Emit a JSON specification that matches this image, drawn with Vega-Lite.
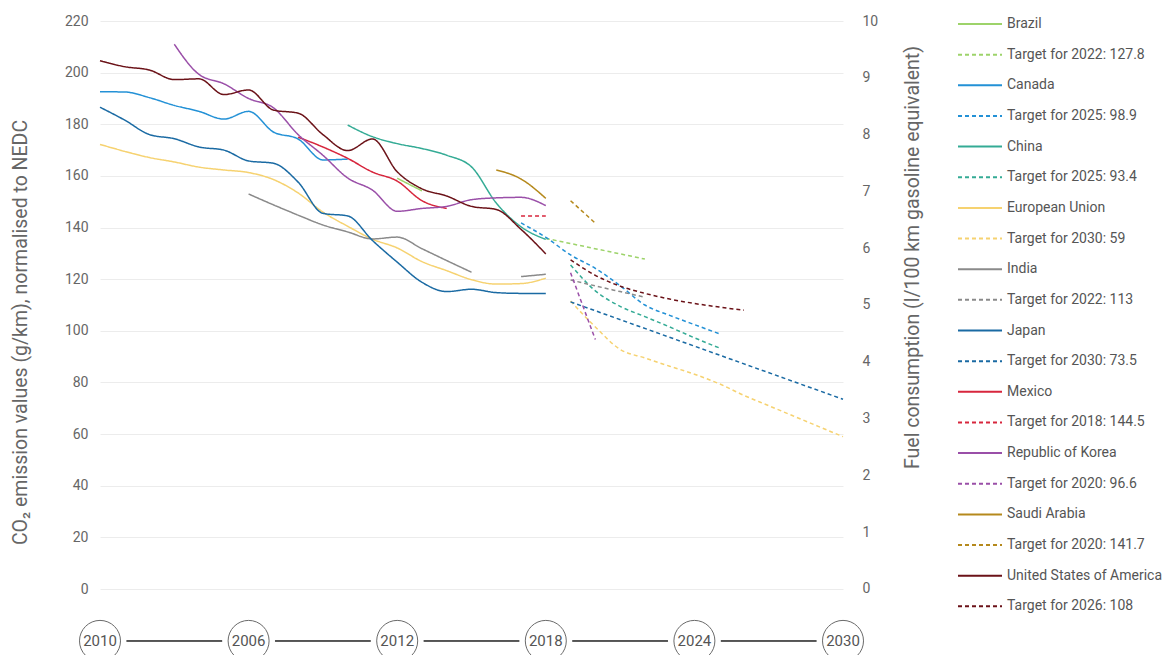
{
  "$schema": "https://vega.github.io/schema/vega-lite/v6.json",
  "autosize": {"type": "none"},
  "padding": {"left": 100, "top": 21, "right": 320, "bottom": 0},
  "width": 743,
  "height": 634,
  "background": "white",
  "config": {
    "view": {"stroke": null},
    "font": "Roboto",
    "legend": {
      "orient": "none",
      "legendX": 857,
      "legendY": -4,
      "title": null,
      "symbolType": "stroke",
      "symbolSize": 1936,
      "symbolStrokeWidth": 2,
      "symbolOffset": 0,
      "clipHeight": 14,
      "rowPadding": 16.65,
      "labelOffset": 4,
      "labelFontSize": 14,
      "labelColor": "#555555",
      "labelFont": "Roboto",
      "padding": 0,
      "labelLimit": 300
    }
  },
  "datasets": {
    "series": [
      {"series": "Brazil", "part": 1, "year": 2012, "value": 159.1},
      {"series": "Brazil", "part": 1, "year": 2013, "value": 154.2},
      {"series": "Target for 2022: 127.8", "part": 1, "year": 2018, "value": 135.8},
      {"series": "Target for 2022: 127.8", "part": 1, "year": 2022, "value": 127.8},
      {"series": "Canada", "part": 1, "year": 2000, "value": 192.6},
      {"series": "Canada", "part": 1, "year": 2001, "value": 192.5},
      {"series": "Canada", "part": 1, "year": 2002, "value": 190.3},
      {"series": "Canada", "part": 1, "year": 2003, "value": 187.3},
      {"series": "Canada", "part": 1, "year": 2004, "value": 185.0},
      {"series": "Canada", "part": 1, "year": 2005, "value": 182.0},
      {"series": "Canada", "part": 1, "year": 2006, "value": 185.0},
      {"series": "Canada", "part": 1, "year": 2007, "value": 177.0},
      {"series": "Canada", "part": 1, "year": 2008, "value": 174.3},
      {"series": "Canada", "part": 1, "year": 2009, "value": 166.2},
      {"series": "Canada", "part": 1, "year": 2010, "value": 166.5},
      {"series": "Target for 2025: 98.9", "part": 1, "year": 2017, "value": 141.8},
      {"series": "Target for 2025: 98.9", "part": 1, "year": 2018, "value": 136.2},
      {"series": "Target for 2025: 98.9", "part": 1, "year": 2019, "value": 129.4},
      {"series": "Target for 2025: 98.9", "part": 1, "year": 2020, "value": 124.2},
      {"series": "Target for 2025: 98.9", "part": 1, "year": 2021, "value": 117.5},
      {"series": "Target for 2025: 98.9", "part": 1, "year": 2022, "value": 110.0},
      {"series": "Target for 2025: 98.9", "part": 1, "year": 2023, "value": 106.0},
      {"series": "Target for 2025: 98.9", "part": 1, "year": 2024, "value": 102.4},
      {"series": "Target for 2025: 98.9", "part": 1, "year": 2025, "value": 98.9},
      {"series": "China", "part": 1, "year": 2010, "value": 179.7},
      {"series": "China", "part": 1, "year": 2011, "value": 175.2},
      {"series": "China", "part": 1, "year": 2012, "value": 172.5},
      {"series": "China", "part": 1, "year": 2013, "value": 170.6},
      {"series": "China", "part": 1, "year": 2014, "value": 168.0},
      {"series": "China", "part": 1, "year": 2015, "value": 163.5},
      {"series": "China", "part": 1, "year": 2016, "value": 149.5},
      {"series": "China", "part": 1, "year": 2017, "value": 140.3},
      {"series": "China", "part": 1, "year": 2018, "value": 135.4},
      {"series": "Target for 2025: 93.4", "part": 1, "year": 2019, "value": 125.5},
      {"series": "Target for 2025: 93.4", "part": 1, "year": 2020, "value": 115.5},
      {"series": "Target for 2025: 93.4", "part": 1, "year": 2021, "value": 109.5},
      {"series": "Target for 2025: 93.4", "part": 1, "year": 2022, "value": 105.5},
      {"series": "Target for 2025: 93.4", "part": 1, "year": 2023, "value": 101.5},
      {"series": "Target for 2025: 93.4", "part": 1, "year": 2024, "value": 97.3},
      {"series": "Target for 2025: 93.4", "part": 1, "year": 2025, "value": 93.4},
      {"series": "European Union", "part": 1, "year": 2000, "value": 172.2},
      {"series": "European Union", "part": 1, "year": 2001, "value": 169.5},
      {"series": "European Union", "part": 1, "year": 2002, "value": 167.1},
      {"series": "European Union", "part": 1, "year": 2003, "value": 165.4},
      {"series": "European Union", "part": 1, "year": 2004, "value": 163.4},
      {"series": "European Union", "part": 1, "year": 2005, "value": 162.3},
      {"series": "European Union", "part": 1, "year": 2006, "value": 161.3},
      {"series": "European Union", "part": 1, "year": 2007, "value": 158.6},
      {"series": "European Union", "part": 1, "year": 2008, "value": 153.4},
      {"series": "European Union", "part": 1, "year": 2009, "value": 146.0},
      {"series": "European Union", "part": 1, "year": 2010, "value": 140.5},
      {"series": "European Union", "part": 1, "year": 2011, "value": 135.5},
      {"series": "European Union", "part": 1, "year": 2012, "value": 132.1},
      {"series": "European Union", "part": 1, "year": 2013, "value": 126.8},
      {"series": "European Union", "part": 1, "year": 2014, "value": 123.3},
      {"series": "European Union", "part": 1, "year": 2015, "value": 119.8},
      {"series": "European Union", "part": 1, "year": 2016, "value": 118.1},
      {"series": "European Union", "part": 1, "year": 2017, "value": 118.3},
      {"series": "European Union", "part": 1, "year": 2018, "value": 120.4},
      {"series": "Target for 2030: 59", "part": 1, "year": 2019, "value": 111.5},
      {"series": "Target for 2030: 59", "part": 1, "year": 2020, "value": 101.5},
      {"series": "Target for 2030: 59", "part": 1, "year": 2021, "value": 92.8},
      {"series": "Target for 2030: 59", "part": 1, "year": 2022, "value": 89.5},
      {"series": "Target for 2030: 59", "part": 1, "year": 2023, "value": 86.3},
      {"series": "Target for 2030: 59", "part": 1, "year": 2024, "value": 83.2},
      {"series": "Target for 2030: 59", "part": 1, "year": 2025, "value": 79.5},
      {"series": "Target for 2030: 59", "part": 1, "year": 2026, "value": 75.0},
      {"series": "Target for 2030: 59", "part": 1, "year": 2027, "value": 71.0},
      {"series": "Target for 2030: 59", "part": 1, "year": 2028, "value": 67.0},
      {"series": "Target for 2030: 59", "part": 1, "year": 2029, "value": 63.0},
      {"series": "Target for 2030: 59", "part": 1, "year": 2030, "value": 59.0},
      {"series": "India", "part": 1, "year": 2006, "value": 153.0},
      {"series": "India", "part": 1, "year": 2007, "value": 148.8},
      {"series": "India", "part": 1, "year": 2008, "value": 144.8},
      {"series": "India", "part": 1, "year": 2009, "value": 141.0},
      {"series": "India", "part": 1, "year": 2010, "value": 138.3},
      {"series": "India", "part": 1, "year": 2011, "value": 135.6},
      {"series": "India", "part": 1, "year": 2012, "value": 136.3},
      {"series": "India", "part": 1, "year": 2013, "value": 131.8},
      {"series": "India", "part": 1, "year": 2014, "value": 127.2},
      {"series": "India", "part": 1, "year": 2015, "value": 122.7},
      {"series": "India", "part": 2, "year": 2017, "value": 121.0},
      {"series": "India", "part": 2, "year": 2018, "value": 121.9},
      {"series": "Target for 2022: 113", "part": 1, "year": 2019, "value": 119.7},
      {"series": "Target for 2022: 113", "part": 1, "year": 2020, "value": 117.4},
      {"series": "Target for 2022: 113", "part": 1, "year": 2021, "value": 115.2},
      {"series": "Target for 2022: 113", "part": 1, "year": 2022, "value": 113.0},
      {"series": "Japan", "part": 1, "year": 2000, "value": 186.6},
      {"series": "Japan", "part": 1, "year": 2001, "value": 181.6},
      {"series": "Japan", "part": 1, "year": 2002, "value": 176.0},
      {"series": "Japan", "part": 1, "year": 2003, "value": 174.4},
      {"series": "Japan", "part": 1, "year": 2004, "value": 171.2},
      {"series": "Japan", "part": 1, "year": 2005, "value": 170.0},
      {"series": "Japan", "part": 1, "year": 2006, "value": 165.8},
      {"series": "Japan", "part": 1, "year": 2007, "value": 164.9},
      {"series": "Japan", "part": 1, "year": 2008, "value": 157.6},
      {"series": "Japan", "part": 1, "year": 2009, "value": 145.5},
      {"series": "Japan", "part": 1, "year": 2010, "value": 144.5},
      {"series": "Japan", "part": 1, "year": 2011, "value": 135.0},
      {"series": "Japan", "part": 1, "year": 2012, "value": 126.6},
      {"series": "Japan", "part": 1, "year": 2013, "value": 118.8},
      {"series": "Japan", "part": 1, "year": 2014, "value": 115.2},
      {"series": "Japan", "part": 1, "year": 2015, "value": 116.1},
      {"series": "Japan", "part": 1, "year": 2016, "value": 114.8},
      {"series": "Japan", "part": 1, "year": 2017, "value": 114.5},
      {"series": "Japan", "part": 1, "year": 2018, "value": 114.5},
      {"series": "Target for 2030: 73.5", "part": 1, "year": 2019, "value": 111.2},
      {"series": "Target for 2030: 73.5", "part": 1, "year": 2030, "value": 73.5},
      {"series": "Mexico", "part": 1, "year": 2008, "value": 175.0},
      {"series": "Mexico", "part": 1, "year": 2009, "value": 171.2},
      {"series": "Mexico", "part": 1, "year": 2010, "value": 166.8},
      {"series": "Mexico", "part": 1, "year": 2011, "value": 161.5},
      {"series": "Mexico", "part": 1, "year": 2012, "value": 158.0},
      {"series": "Mexico", "part": 1, "year": 2013, "value": 150.4},
      {"series": "Mexico", "part": 1, "year": 2014, "value": 147.4},
      {"series": "Target for 2018: 144.5", "part": 1, "year": 2017, "value": 144.5},
      {"series": "Target for 2018: 144.5", "part": 1, "year": 2018, "value": 144.5},
      {"series": "Republic of Korea", "part": 1, "year": 2003, "value": 211.0},
      {"series": "Republic of Korea", "part": 1, "year": 2004, "value": 199.3},
      {"series": "Republic of Korea", "part": 1, "year": 2005, "value": 195.7},
      {"series": "Republic of Korea", "part": 1, "year": 2006, "value": 190.0},
      {"series": "Republic of Korea", "part": 1, "year": 2007, "value": 186.4},
      {"series": "Republic of Korea", "part": 1, "year": 2008, "value": 176.0},
      {"series": "Republic of Korea", "part": 1, "year": 2009, "value": 168.0},
      {"series": "Republic of Korea", "part": 1, "year": 2010, "value": 159.2},
      {"series": "Republic of Korea", "part": 1, "year": 2011, "value": 154.5},
      {"series": "Republic of Korea", "part": 1, "year": 2012, "value": 146.3},
      {"series": "Republic of Korea", "part": 1, "year": 2013, "value": 147.4},
      {"series": "Republic of Korea", "part": 1, "year": 2014, "value": 148.2},
      {"series": "Republic of Korea", "part": 1, "year": 2015, "value": 150.8},
      {"series": "Republic of Korea", "part": 1, "year": 2016, "value": 151.5},
      {"series": "Republic of Korea", "part": 1, "year": 2017, "value": 151.7},
      {"series": "Republic of Korea", "part": 1, "year": 2018, "value": 148.5},
      {"series": "Target for 2020: 96.6", "part": 1, "year": 2019, "value": 122.5},
      {"series": "Target for 2020: 96.6", "part": 1, "year": 2020, "value": 96.6},
      {"series": "Saudi Arabia", "part": 1, "year": 2016, "value": 162.3},
      {"series": "Saudi Arabia", "part": 1, "year": 2017, "value": 158.8},
      {"series": "Saudi Arabia", "part": 1, "year": 2018, "value": 151.3},
      {"series": "Target for 2020: 141.7", "part": 1, "year": 2019, "value": 150.4},
      {"series": "Target for 2020: 141.7", "part": 1, "year": 2020, "value": 141.7},
      {"series": "United States of America", "part": 1, "year": 2000, "value": 204.6},
      {"series": "United States of America", "part": 1, "year": 2001, "value": 202.3},
      {"series": "United States of America", "part": 1, "year": 2002, "value": 201.0},
      {"series": "United States of America", "part": 1, "year": 2003, "value": 197.3},
      {"series": "United States of America", "part": 1, "year": 2004, "value": 197.6},
      {"series": "United States of America", "part": 1, "year": 2005, "value": 191.5},
      {"series": "United States of America", "part": 1, "year": 2006, "value": 193.3},
      {"series": "United States of America", "part": 1, "year": 2007, "value": 185.5},
      {"series": "United States of America", "part": 1, "year": 2008, "value": 184.3},
      {"series": "United States of America", "part": 1, "year": 2009, "value": 176.0},
      {"series": "United States of America", "part": 1, "year": 2010, "value": 169.8},
      {"series": "United States of America", "part": 1, "year": 2011, "value": 174.3},
      {"series": "United States of America", "part": 1, "year": 2012, "value": 161.6},
      {"series": "United States of America", "part": 1, "year": 2013, "value": 155.0},
      {"series": "United States of America", "part": 1, "year": 2014, "value": 152.2},
      {"series": "United States of America", "part": 1, "year": 2015, "value": 148.2},
      {"series": "United States of America", "part": 1, "year": 2016, "value": 147.0},
      {"series": "United States of America", "part": 1, "year": 2017, "value": 139.3},
      {"series": "United States of America", "part": 1, "year": 2018, "value": 129.8},
      {"series": "Target for 2026: 108", "part": 1, "year": 2019, "value": 127.5},
      {"series": "Target for 2026: 108", "part": 1, "year": 2020, "value": 121.5},
      {"series": "Target for 2026: 108", "part": 1, "year": 2021, "value": 117.3},
      {"series": "Target for 2026: 108", "part": 1, "year": 2022, "value": 114.5},
      {"series": "Target for 2026: 108", "part": 1, "year": 2023, "value": 112.3},
      {"series": "Target for 2026: 108", "part": 1, "year": 2024, "value": 110.6},
      {"series": "Target for 2026: 108", "part": 1, "year": 2025, "value": 109.2},
      {"series": "Target for 2026: 108", "part": 1, "year": 2026, "value": 108.0}
    ],
    "timeline": [
      {"year": 2000, "label": "2010"},
      {"year": 2006, "label": "2006"},
      {"year": 2012, "label": "2012"},
      {"year": 2018, "label": "2018"},
      {"year": 2024, "label": "2024"},
      {"year": 2030, "label": "2030"}
    ]
  },
  "layer": [
    {
      "layer": [
        {
          "data": {"name": "series"},
          "mark": {"type": "line", "interpolate": "monotone", "strokeWidth": 1.5},
          "encoding": {
            "x": {"field": "year", "type": "quantitative", "scale": {"domain": [2000, 2030], "nice": false, "zero": false}, "axis": null},
            "y": {
              "field": "value", "type": "quantitative",
              "scale": {"domain": [-25.56, 220], "nice": false, "zero": false},
              "axis": {
                "orient": "left",
                "values": [0, 20, 40, 60, 80, 100, 120, 140, 160, 180, 200, 220],
                "grid": true, "gridColor": "#ececec", "gridWidth": 1,
                "domain": false, "ticks": false,
                "labelPadding": 12, "labelFontSize": 14, "labelColor": "#666666", "labelFont": "Roboto",
                "title": "CO₂ emission values (g/km), normalised to NEDC",
                "titleFontSize": 19.5, "titleFontWeight": "normal", "titleColor": "#666666", "titleFont": "Roboto",
                "titleAngle": 270, "titleBaseline": "middle", "titleAlign": "center",
                "titleX": -80, "titleY": 311
              }
            },
            "color": {
              "field": "series", "type": "nominal",
              "scale": {
                "domain": ["Brazil", "Target for 2022: 127.8", "Canada", "Target for 2025: 98.9", "China", "Target for 2025: 93.4", "European Union", "Target for 2030: 59", "India", "Target for 2022: 113", "Japan", "Target for 2030: 73.5", "Mexico", "Target for 2018: 144.5", "Republic of Korea", "Target for 2020: 96.6", "Saudi Arabia", "Target for 2020: 141.7", "United States of America", "Target for 2026: 108"],
                "range": ["#9dd36a", "#9dd36a", "#2391d6", "#2391d6", "#34ab95", "#34ab95", "#f6d270", "#f6d270", "#8a8a8a", "#8a8a8a", "#1a6aa3", "#1a6aa3", "#d7263d", "#d7263d", "#9a4fa8", "#9a4fa8", "#b5891c", "#b5891c", "#6b1218", "#6b1218"]
              }
            },
            "strokeDash": {
              "field": "series", "type": "nominal",
              "scale": {
                "domain": ["Brazil", "Target for 2022: 127.8", "Canada", "Target for 2025: 98.9", "China", "Target for 2025: 93.4", "European Union", "Target for 2030: 59", "India", "Target for 2022: 113", "Japan", "Target for 2030: 73.5", "Mexico", "Target for 2018: 144.5", "Republic of Korea", "Target for 2020: 96.6", "Saudi Arabia", "Target for 2020: 141.7", "United States of America", "Target for 2026: 108"],
                "range": [[1, 0], [4, 3], [1, 0], [4, 3], [1, 0], [4, 3], [1, 0], [4, 3], [1, 0], [4, 3], [1, 0], [4, 3], [1, 0], [4, 3], [1, 0], [4, 3], [1, 0], [4, 3], [1, 0], [4, 3]]
              }
            },
            "detail": {"field": "part", "type": "nominal"}
          }
        },
        {
          "data": {"name": "timeline"},
          "mark": {"type": "rule", "color": "#555555", "strokeWidth": 1},
          "encoding": {
            "x": {"datum": 2000, "type": "quantitative"},
            "x2": {"datum": 2030},
            "y": {"datum": -20.1, "type": "quantitative"}
          }
        },
        {
          "data": {"name": "timeline"},
          "mark": {"type": "point", "shape": "circle", "filled": true, "color": "white", "opacity": 1, "size": 2800},
          "encoding": {
            "x": {"field": "year", "type": "quantitative"},
            "y": {"datum": -20.1, "type": "quantitative"}
          }
        },
        {
          "data": {"name": "timeline"},
          "mark": {"type": "point", "shape": "circle", "filled": false, "stroke": "#6a6a6a", "strokeWidth": 1, "opacity": 1, "size": 1681},
          "encoding": {
            "x": {"field": "year", "type": "quantitative"},
            "y": {"datum": -20.1, "type": "quantitative"}
          }
        },
        {
          "data": {"name": "timeline"},
          "mark": {"type": "text", "fontSize": 15, "color": "#555555", "font": "Roboto", "baseline": "middle", "align": "center"},
          "encoding": {
            "x": {"field": "year", "type": "quantitative"},
            "y": {"datum": -20.1, "type": "quantitative"},
            "text": {"field": "label", "type": "nominal"}
          }
        }
      ]
    },
    {
      "data": {"values": [{"fuel": 0}, {"fuel": 10}]},
      "mark": {"type": "rule", "opacity": 0},
      "encoding": {
        "y": {
          "field": "fuel", "type": "quantitative",
          "scale": {"domain": [-1.162, 10], "nice": false, "zero": false},
          "axis": {
            "orient": "right",
            "values": [0, 1, 2, 3, 4, 5, 6, 7, 8, 9, 10],
            "grid": false, "domain": false, "ticks": false,
            "labelPadding": 19, "labelFontSize": 14, "labelColor": "#666666", "labelFont": "Roboto",
            "title": "Fuel consumption (l/100 km gasoline equivalent)",
            "titleFontSize": 19.5, "titleFontWeight": "normal", "titleColor": "#666666", "titleFont": "Roboto",
            "titleAngle": 270, "titleBaseline": "middle", "titleAlign": "center",
            "titleX": 69, "titleY": 236
          }
        }
      }
    }
  ],
  "resolve": {"scale": {"y": "independent"}}
}
